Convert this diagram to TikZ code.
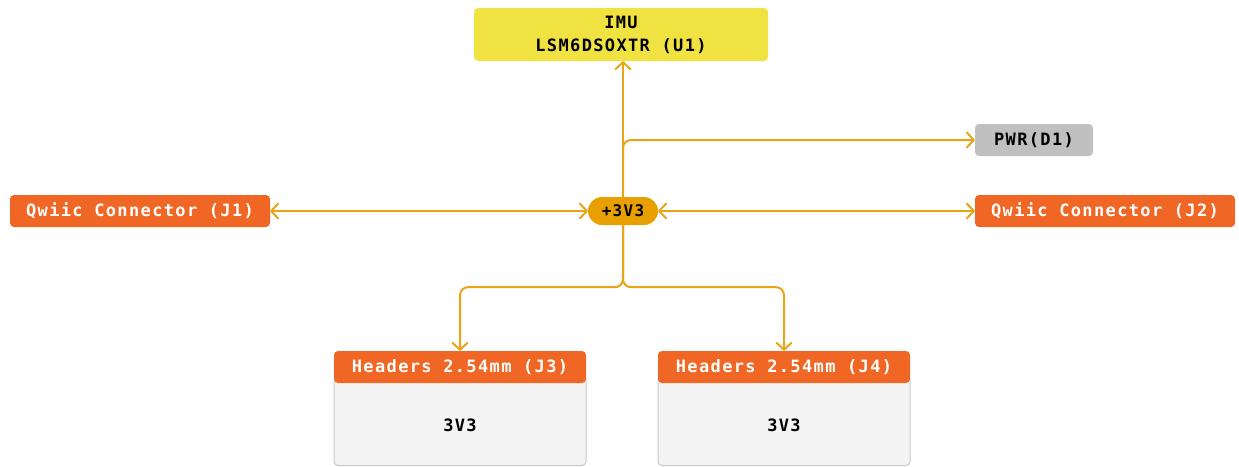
\documentclass[tikz,border=0pt]{standalone}
\usepackage{fontspec}
\newfontfamily\lblfont[LetterSpace=8]{DejaVu Sans Mono}
\usetikzlibrary{arrows.meta}
\definecolor{cyel}{RGB}{240,226,64}
\definecolor{corg}{RGB}{240,102,36}
\definecolor{camb}{RGB}{232,160,0}
\definecolor{cgry}{RGB}{192,192,192}
\definecolor{cbody}{RGB}{244,244,244}
\definecolor{cbord}{RGB}{200,200,200}
\definecolor{cline}{RGB}{233,164,24}
\begin{document}
\begin{tikzpicture}[x=1pt,y=-1pt,
  lbl/.style={font=\lblfont\bfseries\fontsize{17}{23}\selectfont, inner sep=0pt, align=center},
  ybox/.style={lbl, fill=cyel, rounded corners=4pt, text=black},
  obox/.style={lbl, fill=corg, rounded corners=4pt, text=white, minimum width=260pt, minimum height=32pt},
  gbox/.style={lbl, fill=cgry, rounded corners=4pt, text=black},
  pill/.style={lbl, fill=camb, rounded corners=14pt, text=black, minimum width=70pt, minimum height=28pt},
  hdr/.style={lbl, fill=corg, text=white, minimum width=252pt, minimum height=32pt, rounded corners=4pt},
  body/.style={draw=cbord, line width=1pt, fill=cbody, rounded corners=4pt},
  conn/.style={draw=cline, line width=2pt, line cap=round, line join=round},
  tip/.style={-{Straight Barb[length=7pt,width=15pt,line cap=round,line join=round]}},
  tips/.style={{Straight Barb[length=7pt,width=15pt,line cap=round,line join=round]}-{Straight Barb[length=7pt,width=15pt,line cap=round,line join=round]}}
]
\useasboundingbox (0,0) rectangle (1239,466);
% header bodies
\path[body] (334,376) rectangle (586,465.5);
\path[body] (658,376) rectangle (910,465.5);
\node[ybox, minimum width=294pt, minimum height=53pt] (imu) at (621,34.5) {IMU\\LSM6DSOXTR (U1)};
\node[gbox, minimum width=118pt, minimum height=32pt] (pwr) at (1034,140) {PWR(D1)};
\node[pill, font=\lblfont\bfseries\fontsize{16}{20}\selectfont] (p3) at (623,211) {+3V3};
\node[obox] (j1) at (140,211) {Qwiic Connector (J1)};
\node[obox] (j2) at (1105,211) {Qwiic Connector (J2)};
\node[hdr] (j3) at (460,367) {Headers 2.54mm (J3)};
\node[hdr] (j4) at (784,367) {Headers 2.54mm (J4)};
\node[lbl, text=black] (v3) at (460,425) {3V3};
\node[lbl, text=black] (v4) at (784,425) {3V3};
% connectors
\draw[conn, tip] (p3.north) -- (p3.north |- imu.south);
\draw[conn, tip, rounded corners=8pt] (p3.north) |- (pwr.west);
\draw[conn, tips] (p3.west) -- (j1.east);
\draw[conn, tips] (j2.west) -- (p3.east);
\draw[conn, tip, rounded corners=8pt] (p3.south) -- ++(0,62) -| (j3.north);
\draw[conn, tip, rounded corners=8pt] (p3.south) -- ++(0,62) -| (j4.north);
\end{tikzpicture}
\end{document}
